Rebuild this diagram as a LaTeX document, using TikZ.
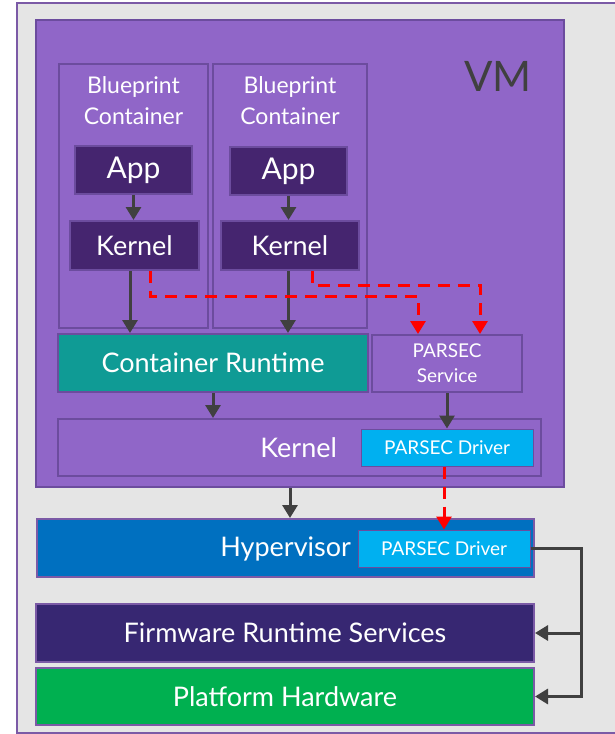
\documentclass[tikz,border=0pt]{standalone}
\usepackage{fontspec}
\setmainfont{Lato}
\usetikzlibrary{positioning, arrows.meta, calc}
\definecolor{PSback}{HTML}{E5E5E5}
\definecolor{PSframe}{HTML}{7B5AA6}
\definecolor{PSvm}{HTML}{9066C8}
\definecolor{PSedge}{HTML}{6C4C9E}
\definecolor{PSdeep}{HTML}{45256F}
\definecolor{PSteal}{HTML}{0F9B95}
\definecolor{PScyan}{HTML}{00B0F0}
\definecolor{PSblue}{HTML}{0070C0}
\definecolor{PSindigo}{HTML}{372772}
\definecolor{PSgreen}{HTML}{00B050}
\definecolor{PSarrow}{HTML}{404040}
\definecolor{PSred}{HTML}{FF0000}
\newcommand{\bigfont}{\fontsize{27}{32}\selectfont}
\newcommand{\appfont}{\fontsize{30}{34}\selectfont}
\newcommand{\midfont}{\fontsize{23}{31}\selectfont}
\newcommand{\smallfont}{\fontsize{19}{25}\selectfont}
\newcommand{\vmfont}{\fontsize{42}{50}\selectfont}

\begin{document}
\begin{tikzpicture}[x=1pt, y=-1pt, >={Triangle[length=13pt, width=15pt]},
    layer/.style={draw=PSedge, line width=2pt, inner sep=0pt, text=white, font=\bigfont},
    driver/.style={draw=PSedge, line width=1pt, fill=PScyan, inner sep=0pt,
                   minimum width=172pt, minimum height=37pt, text=white, font=\smallfont},
    flow/.style={PSarrow, line width=3pt, ->},
    secure/.style={PSred, line width=3pt, dash pattern=on 12pt off 8pt, ->}]
    \useasboundingbox (0,0) rectangle (615,734);
    \clip (0,0) rectangle (615,734);
    % backdrop
    \fill[white] (0,0) rectangle (615,734);
    \draw[PSframe, fill=PSback, line width=2pt] (17,3) rectangle (640,733);
    % virtual machine
    \node[layer, fill=PSvm, minimum width=528pt, minimum height=467pt] (vm) at (300,253.5) {};
    \node[PSarrow, font=\vmfont] (vmlabel) at (498,76) {VM};
    % blueprint containers
    \node[layer, fill=PSvm, minimum width=149pt, minimum height=264pt] (bp1) at (133.5,196) {};
    \node[layer, fill=PSvm, minimum width=154pt, minimum height=264pt] (bp2) at (290,196) {};
    \node[text=white, font=\midfont, align=center, anchor=north] (bp1label) at ([yshift=-10pt]bp1.north) {Blueprint\\Container};
    \node[text=white, font=\midfont, align=center, anchor=north] (bp2label) at ([yshift=-10pt]bp2.north) {Blueprint\\Container};
    \node[layer, fill=PSdeep, minimum width=117pt, minimum height=48pt, font=\appfont] (app1) at (133.5,170) {App};
    \node[layer, fill=PSdeep, minimum width=129pt, minimum height=49pt] (kern1) at (134.5,245.5) {Kernel};
    \node[layer, fill=PSdeep, minimum width=117pt, minimum height=48pt, font=\appfont] (app2) at (288.5,171) {App};
    \node[layer, fill=PSdeep, minimum width=138pt, minimum height=49pt] (kern2) at (290,245.5) {Kernel};
    % runtime and service
    \node[layer, fill=PSteal, minimum width=310pt, minimum height=58pt] (cr) at (213,363) {Container Runtime};
    \node[layer, fill=PSvm, minimum width=150pt, minimum height=57pt, font=\smallfont, align=center] (psvc) at (447,363.5) {PARSEC\\Service};
    % guest kernel
    \node[layer, fill=PSvm, minimum width=483pt, minimum height=57pt] (vkern) at (299.5,447.5) {};
    \node[driver] (vdrv) at (447,447.5) {PARSEC Driver};
    \node[anchor=east, text=white, font=\bigfont] (vkernlabel) at ([xshift=-20pt]vdrv.west) {Kernel};
    % host side
    \node[layer, draw=PSframe, fill=PSblue, minimum width=497pt, minimum height=58pt] (hyp) at (285.5,548) {};
    \node[driver] (hdrv) at (444,548.5) {PARSEC Driver};
    \node[anchor=east, text=white, font=\bigfont] (hyplabel) at ([xshift=-3pt]hdrv.west) {Hypervisor};
    \node[layer, draw=PSframe, fill=PSindigo, minimum width=498pt, minimum height=58pt] (fw) at (285,633) {Firmware Runtime Services};
    \node[layer, draw=PSframe, fill=PSgreen, minimum width=498pt, minimum height=57pt] (ph) at (285,696.5) {Platform Hardware};
    % call flow
    \draw[flow] (app1.south) -- (app1.south |- kern1.north);
    \draw[flow] (app2.south) -- (app2.south |- kern2.north);
    \draw[flow] ([xshift=-4.5pt]kern1.south) -- ([xshift=-4.5pt]kern1.south |- cr.north);
    \draw[flow] ([xshift=-2pt]kern2.south) -- ([xshift=-2pt]kern2.south |- cr.north);
    \draw[flow] (cr.south) -- (cr.south |- vkern.north);
    \draw[flow] (psvc.south) -- (vdrv.north);
    \draw[flow] ([xshift=-10pt]vm.south) -- ([xshift=-10pt]vm.south |- hyp.north);
    \draw[flow] (hdrv.east) -- ++(51,0) |- (fw.east);
    \draw[flow] (hdrv.east) -- ++(51,0) |- (ph.east);
    % secure path
    \draw[secure] ([xshift=15.5pt]kern1.south) -- ++(0,25) -| ([xshift=-29pt]psvc.north);
    \draw[secure] ([xshift=22pt]kern2.south) -- ++(0,14) -| ([xshift=33pt]psvc.north);
    \draw[secure] (vdrv.south -| hdrv.north) -- (hdrv.north);
\end{tikzpicture}
\end{document}
